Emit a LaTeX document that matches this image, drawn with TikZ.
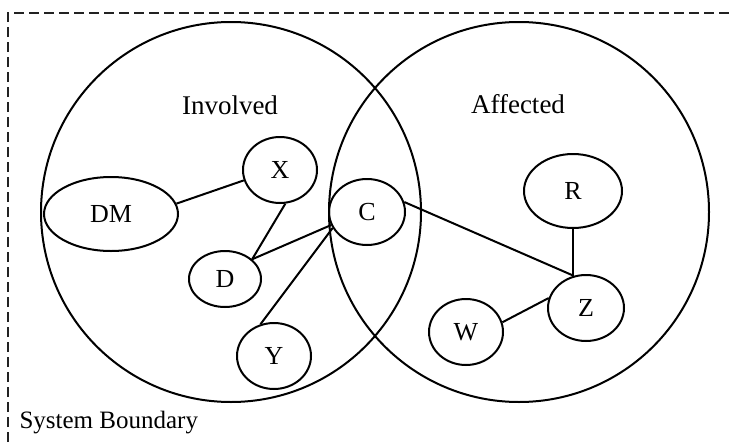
\documentclass[tikz,border=0pt]{standalone}
\usepackage{fontspec}
\setmainfont{Liberation Serif}
\usetikzlibrary{shapes.geometric}
\definecolor{vnLine}{HTML}{000000}
\definecolor{vnDash}{HTML}{222222}
\tikzset{
  vn-set/.style={
    draw=vnLine, line width=2pt, circle, inner sep=0pt,
    minimum size=380pt
  },
  vn-actor/.style={
    draw=vnLine, line width=2pt, ellipse, inner sep=0pt,
    minimum width=74pt, minimum height=66pt,
    font=\fontsize{26}{30}\selectfont
  },
  vn-link/.style={line width=2pt, draw=vnLine},
  vn-bound/.style={line width=1.4pt, draw=vnDash, dash pattern=on 10pt off 5pt},
  vn-title/.style={font=\fontsize{27}{32}\selectfont, anchor=base}
}

\begin{document}
\begin{tikzpicture}[x=1pt, y=-1pt]
\useasboundingbox (0,0) rectangle (731,442);

% Boundary
\coordinate (sbL) at (8,442);
\coordinate (sbR) at (731,13);
\draw[vn-bound] (sbL) |- (sbR);
\node[font=\fontsize{25}{30}\selectfont, anchor=base west] (sblabel)
  at (16,428) {System Boundary};

% Sets
\node[vn-set] (involved) at (231,212) {};
\node[vn-set] (affected) at (519,212) {};
\node[vn-title] (invT) at (230,114) {Involved};
\node[vn-title] (affT) at (518,113) {Affected};

% Actors
\node[vn-actor, minimum width=134pt, minimum height=74pt] (dm) at (111,214) {DM};
\node[vn-actor] (x) at (280,170) {X};
\node[vn-actor, minimum width=72pt, minimum height=56pt] (d) at (225,279) {D};
\node[vn-actor, minimum width=76pt] (c) at (367,212) {C};
\node[vn-actor] (y) at (274,356) {Y};
\node[vn-actor, minimum width=98pt, minimum height=74pt] (r) at (573,191) {R};
\node[vn-actor, minimum width=76pt] (z) at (586,308) {Z};
\node[vn-actor] (w) at (466,332) {W};

\draw[vn-link] (dm.9) -- (x.196);
\draw[vn-link] (x.279) -- (d.36);
\draw[vn-link] (d.36) -- (c.200);
\draw[vn-link] (y.113) -- (c.205);
\draw[vn-link] (c.15) -- (z.111);
\draw[vn-link] (r.south) -- (z.111 -| r.south);
\draw[vn-link] (w.15) -- (z.165);
\end{tikzpicture}
\end{document}
